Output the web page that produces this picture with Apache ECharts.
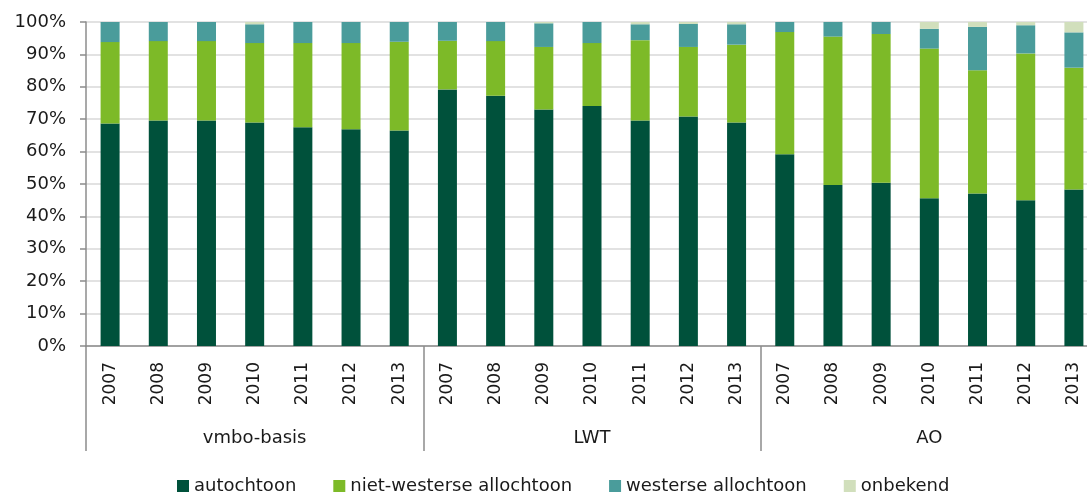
<!DOCTYPE html>
<html>
<head>
<meta charset="utf-8">
<script src="https://cdn.jsdelivr.net/npm/echarts@6/dist/echarts.min.js"></script>
<style>
html,body{margin:0;padding:0;background:#fff;overflow:hidden;width:1087px;height:494px;}
#chart{width:1098px;height:494px;}
</style>
</head>
<body>
<div id="chart"></div>
<script>
const years = ['2007','2008','2009','2010','2011','2012','2013'];
const groups = ['vmbo-basis','LWT','AO'];
const seriesNames = ['autochtoon','niet-westerse allochtoon','westerse allochtoon','onbekend'];
const yTicks = [0,10,20,30,40,50,60,70,80,90,100];

// values per group: vmbo-basis, LWT, AO
const autochtoon = [
  68.7, 69.6, 69.6, 69.0, 67.5, 66.9, 66.5,
  79.2, 77.2, 73.0, 74.1, 69.6, 70.8, 69.0,
  59.2, 49.7, 50.4, 45.6, 47.1, 45.0, 48.3
];
const nietWesterse = [
  25.1, 24.5, 24.5, 24.5, 26.0, 26.6, 27.4,
  15.0, 16.9, 19.3, 19.4, 24.8, 21.5, 24.0,
  37.7, 45.8, 45.9, 46.2, 38.0, 45.3, 37.6
];
const westerse = [
  6.2, 5.9, 5.9, 5.8, 6.5, 6.5, 6.1,
  5.8, 5.9, 7.3, 6.5, 4.9, 7.1, 6.3,
  3.1, 4.5, 3.7, 6.1, 13.4, 8.7, 10.9
];
const onbekend = [
  0, 0, 0, 0.7, 0, 0, 0,
  0, 0, 0.4, 0, 0.7, 0.6, 0.7,
  0, 0, 0, 2.1, 1.5, 1.0, 3.2
];

const colors = ['#00513B','#7DBA28','#4A9C9B','#D1DFBC'];
const categories = [];
groups.forEach(g => years.forEach(y => categories.push(y)));
const values = [autochtoon, nietWesterse, westerse, onbekend];

const font = 'DejaVu Sans, Verdana, sans-serif';
const axisColor = '#8c8c8c';

const chart = echarts.init(document.getElementById('chart'), null, {renderer:'canvas'});
chart.setOption({
  animation:false,
  color: colors,
  textStyle:{fontFamily:font},
  grid:{left:86, top:22, right:0, height:324, containLabel:false},
  legend:{
    data: seriesNames,
    left:172, top:472,
    itemWidth:12, itemHeight:12, itemGap:37,
    icon:'rect',
    textStyle:{fontSize:18, color:'#1a1a1a', fontFamily:font}
  },
  xAxis:[
    {
      type:'category', data:categories, position:'bottom',
      axisLine:{show:true, lineStyle:{color:axisColor, width:1.5}},
      axisTick:{show:false},
      axisLabel:{rotate:90, margin:16, fontSize:17, color:'#1a1a1a', fontFamily:font}
    },
    {
      type:'category', data:groups, position:'bottom',
      axisLine:{show:false},
      axisTick:{show:true, length:105, lineStyle:{color:axisColor, width:1.5}},
      axisLabel:{margin:83, fontSize:18, color:'#1a1a1a', fontFamily:font},
      splitLine:{show:false}
    }
  ],
  yAxis:{
    type:'value', min:0, max:100, interval:10,
    axisLine:{show:true, lineStyle:{color:axisColor, width:1.5}},
    axisTick:{show:true, length:6, lineStyle:{color:axisColor, width:1.5}},
    axisLabel:{formatter:v => yTicks.includes(v) ? v + '%' : '', margin:20, fontSize:18, color:'#1a1a1a', fontFamily:font},
    splitLine:{show:true, lineStyle:{color:'#d9d9d9', width:1.5}}
  },
  series: seriesNames.map((name,i) => ({
    name:name, type:'bar', stack:'total', xAxisIndex:0,
    barWidth:19,
    data: values[i],
    itemStyle:{color:colors[i]}
  }))
});
</script>
</body>
</html>
